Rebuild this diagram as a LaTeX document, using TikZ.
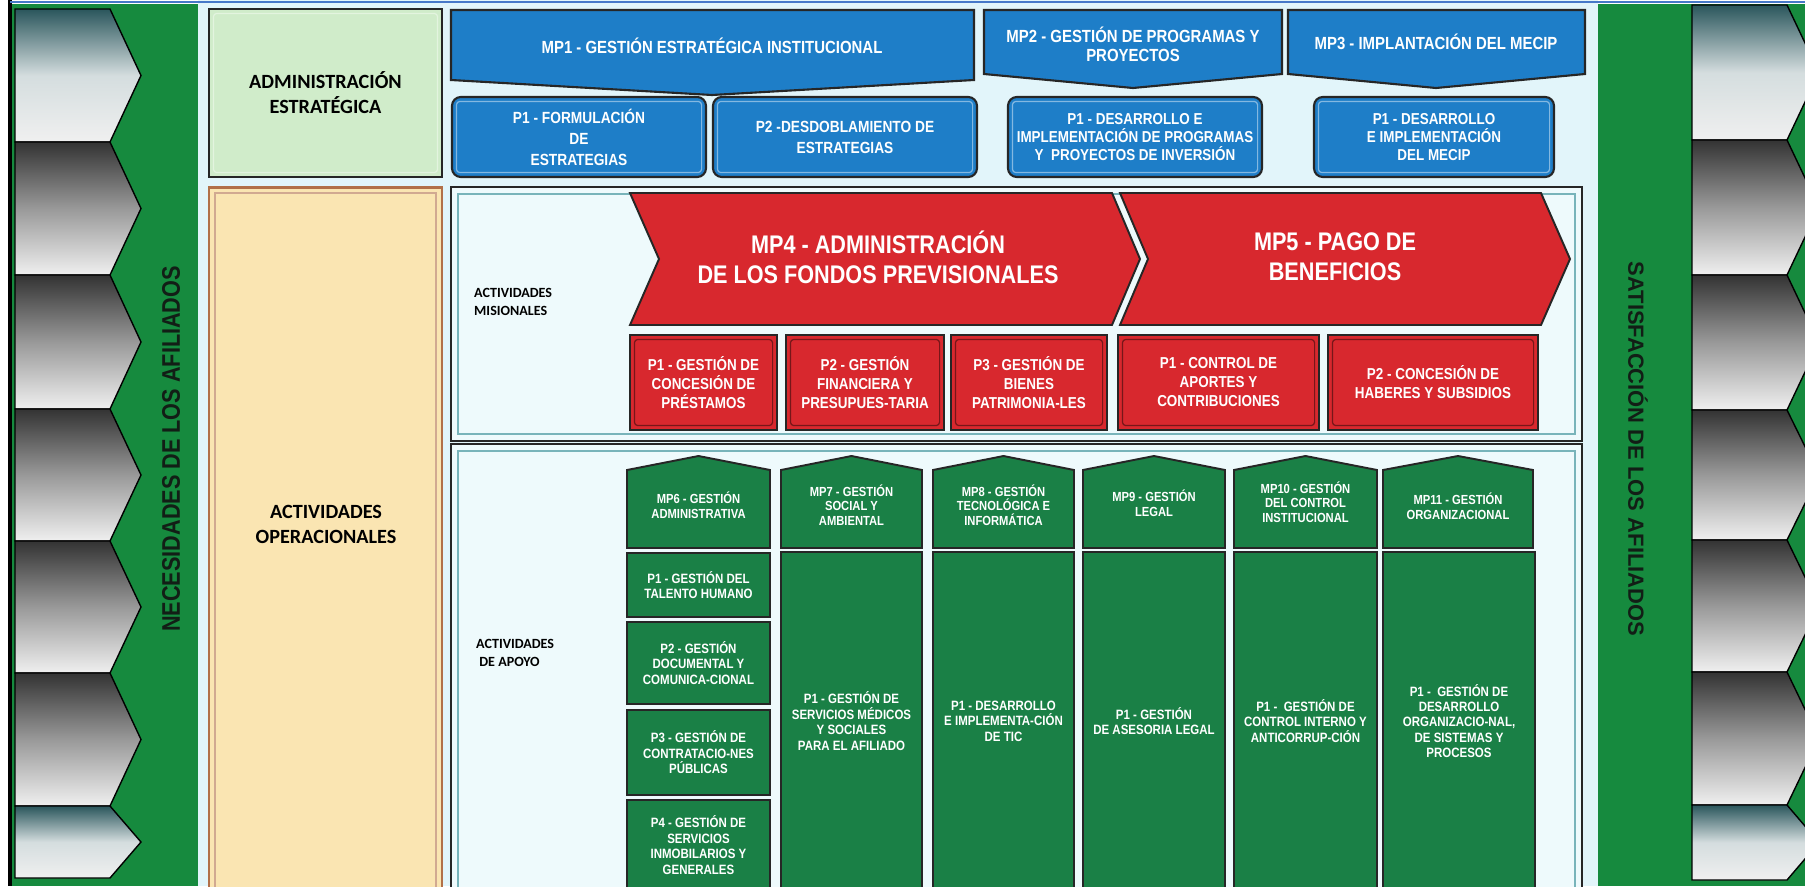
\documentclass[tikz,border=0pt]{standalone}
\usepackage{fontspec}
\setmainfont{Liberation Sans}
\newfontfamily\narrowfont[FakeStretch=0.85]{Liberation Sans}
\newfontfamily\labelfont{Carlito}

\definecolor{sidegreen}{RGB}{22,138,62}
\definecolor{boxgreen}{RGB}{26,128,70}
\definecolor{mpblue}{RGB}{30,126,200}
\definecolor{mpred}{RGB}{216,40,46}
\definecolor{bgcyan}{RGB}{226,245,250}
\definecolor{secfill}{RGB}{238,250,252}
\definecolor{framecyan}{RGB}{120,180,186}
\definecolor{adminfill}{RGB}{208,236,202}
\definecolor{operfill}{RGB}{250,229,178}
\definecolor{operedge}{RGB}{178,112,72}
\definecolor{chevteal}{RGB}{42,86,92}
\definecolor{textdark}{RGB}{18,30,22}
\definecolor{topline}{RGB}{70,120,200}

\begin{document}
\begin{tikzpicture}[x=0.02cm, y=-0.02cm,
        % box size given in pixels of the layout grid
        wh/.style 2 args={minimum width=#1*0.02cm, minimum height=#2*0.02cm},
        % thin inset line inside a box
        bevel/.style={path picture={\draw[#1, line width=0.7pt, rounded corners=2pt]
            ([shift={(2.5pt,2.5pt)}]path picture bounding box.south west) rectangle
            ([shift={(-2.5pt,-2.5pt)}]path picture bounding box.north east);}},
        % Side chevrons: black outline, shaded dark to light
        chev/.style={draw=black, line width=0.8pt},
        % Left column panels and row labels
        panel/.style={rectangle, draw=black!85, line width=1.4pt, inner sep=0pt},
        labeltext/.style={text=black, align=center,
            font=\labelfont\bfseries\fontsize{11.5}{14.2}\selectfont},
        rowtext/.style={text=black, align=left, anchor=west,
            font=\labelfont\bfseries\fontsize{8}{10.5}\selectfont},
        sidetext/.style={text=textdark,
            font=\narrowfont\bfseries\fontsize{14.5}{16}\selectfont},
        sidewide/.style={text=textdark,
            font=\bfseries\fontsize{12.5}{14}\selectfont},
        % Strategic processes (blue)
        bluehead/.style={draw=black!85, line width=1.2pt, fill=mpblue},
        bluetext/.style={text=white, align=center,
            font=\narrowfont\bfseries\fontsize{10}{11}\selectfont},
        bluebox/.style={rectangle, draw=black!85, line width=1.2pt, fill=mpblue,
            rounded corners=5pt, bevel=mpblue!55!white, text=white, align=center,
            font=\narrowfont\bfseries\fontsize{9.2}{12}\selectfont},
        bluesmall/.style={font=\narrowfont\bfseries\fontsize{9}{10}\selectfont},
        % Sections of the operational area
        section/.style={draw=black!85, line width=1.1pt, fill=secfill},
        sectioninner/.style={draw=framecyan, line width=1.2pt},
        % Mission processes (red)
        redhead/.style={draw=black!85, line width=1.1pt, fill=mpred},
        redtext/.style={text=white, align=center,
            font=\narrowfont\bfseries\fontsize{14.5}{17}\selectfont},
        redbox/.style={rectangle, draw=black!85, line width=1.1pt, fill=mpred,
            bevel=mpred!55!black, text=white, align=center,
            font=\narrowfont\bfseries\fontsize{9}{10.8}\selectfont},
        % Support processes (green)
        greenhead/.style={draw=black!85, line width=1.1pt, fill=boxgreen},
        greentext/.style={text=white, align=center,
            font=\narrowfont\bfseries\fontsize{7.5}{8.4}\selectfont},
        greenbox/.style={rectangle, draw=black!85, line width=1.1pt, fill=boxgreen,
            text=white, align=center,
            font=\narrowfont\bfseries\fontsize{7.7}{8.8}\selectfont},
    ]

    \useasboundingbox (0,0) rectangle (1805,886);
    \clip (0,0) rectangle (1805,886);

    % === Background and side bands ===
    \fill[white] (0,0) rectangle (1805,886);
    \fill[bgcyan] (198,0) rectangle (1598,886);
    \fill[sidegreen] (12,4) rectangle (198,886);
    \fill[sidegreen] (1598,4) rectangle (1805,886);
    \draw[line width=2.2pt] (10,0) -- (10,886);
    \draw[topline, line width=0.8pt] (10,2) -- (1805,2);

    % === Side chevrons ===
    \foreach \ya/\yb/\tc/\mc in {9/142/chevteal/chevteal!20!white,
            142/275/black!80/black!40, 275/409/black!80/black!40,
            409/541/black!80/black!40, 541/673/black!80/black!40,
            673/806/black!80/black!40, 806/878/chevteal/chevteal!20!white}
        \path[chev, top color=\tc, bottom color=black!6, middle color=\mc]
            (15,\ya) -- (110,\ya) -- (141,{(\ya+\yb)/2}) -- (110,\yb) -- (15,\yb) -- cycle;
    \foreach \ya/\yb/\tc/\mc in {5/140/chevteal/chevteal!20!white,
            140/275/black!80/black!40, 275/410/black!80/black!40,
            410/540/black!80/black!40, 540/672/black!80/black!40,
            672/805/black!80/black!40, 805/880/chevteal/chevteal!20!white}
        \path[chev, top color=\tc, bottom color=black!6, middle color=\mc]
            (1692,\ya) -- (1787,\ya) -- (1819,{(\ya+\yb)/2}) -- (1787,\yb) -- (1692,\yb) -- cycle;

    \node[sidetext, rotate=90] (needs) at (171,449) {NECESIDADES DE LOS AFILIADOS};
    \node[sidewide, rotate=-90] (satisf) at (1638,449) {SATISFACCIÓN DE LOS AFILIADOS};

    % === Left column ===
    \node[panel, fill=adminfill, labeltext, bevel=adminfill!60!white, wh={233}{168}] (admin) at (325.5,93) {ADMINISTRACIÓN\\ESTRATÉGICA};
    \node[panel, draw=operedge, fill=operfill, wh={233}{705}] (operpanel) at (325.5,540) {};
    \draw[operedge!60, line width=0.6pt] (215,193) rectangle (436,892);
    \node[labeltext] (oper) at (326,524) {ACTIVIDADES\\OPERACIONALES};

    % === Top row: strategic processes ===
    \draw[bluehead] (451,10) -- (974,10) -- (974,80) -- (712,95) -- (451,80) -- cycle;
    \node[bluetext] (mp1) at (712,46) {MP1 - GESTIÓN ESTRATÉGICA INSTITUCIONAL};
    \draw[bluehead] (984,10) -- (1282,10) -- (1282,74) -- (1133,88) -- (984,74) -- cycle;
    \node[bluetext] (mp2) at (1133,44) {MP2 - GESTIÓN DE PROGRAMAS Y\\PROYECTOS};
    \draw[bluehead] (1288,10) -- (1585,10) -- (1585,74) -- (1436,88) -- (1288,74) -- cycle;
    \node[bluetext] (mp3) at (1436,42) {MP3 - IMPLANTACIÓN DEL MECIP};

    \node[bluebox, wh={254}{80}] (p11) at (579,137) {P1 - FORMULACIÓN\\DE\\ESTRATEGIAS};
    \node[bluebox, wh={264}{80}] (p12) at (845,137) {P2 -DESDOBLAMIENTO DE\\ESTRATEGIAS};
    \node[bluebox, bluesmall, wh={254}{80}] (p21) at (1135,137) {P1 - DESARROLLO E\\IMPLEMENTACIÓN DE PROGRAMAS\\Y~~PROYECTOS DE INVERSIÓN};
    \node[bluebox, bluesmall, wh={240}{80}] (p31) at (1434,137) {P1 - DESARROLLO\\E IMPLEMENTACIÓN\\DEL MECIP};

    % === Middle row: mission processes ===
    \draw[section] (451,187) rectangle (1582,441);
    \draw[sectioninner] (458,194) rectangle (1575,434);
    \node[rowtext] (misional) at (468,302) {ACTIVIDADES\\MISIONALES};

    \draw[redhead] (630,193) -- (1112,193) -- (1140,259) -- (1112,325) -- (630,325) -- (659,259) -- cycle;
    \node[redtext] (mp4) at (878,257) {MP4 - ADMINISTRACIÓN\\DE LOS FONDOS PREVISIONALES};
    \draw[redhead] (1120,193) -- (1541,193) -- (1570,259) -- (1541,325) -- (1120,325) -- (1148,259) -- cycle;
    \node[redtext] (mp5) at (1335,257) {MP5 - PAGO DE\\BENEFICIOS};

    \node[redbox, wh={147}{95}] (p41) at (703.5,382.5) {P1 - GESTIÓN DE\\CONCESIÓN DE\\PRÉSTAMOS};
    \node[redbox, wh={158}{95}] (p42) at (865,382.5) {P2 - GESTIÓN\\FINANCIERA Y\\PRESUPUES-TARIA};
    \node[redbox, wh={156}{95}] (p43) at (1029,382.5) {P3 - GESTIÓN DE\\BIENES\\PATRIMONIA-LES};
    \node[redbox, wh={201}{95}] (p51) at (1218.5,382.5) {P1 - CONTROL DE\\APORTES Y\\CONTRIBUCIONES};
    \node[redbox, wh={210}{95}] (p52) at (1433,382.5) {P2 - CONCESIÓN DE\\HABERES Y SUBSIDIOS};

    % === Bottom row: support processes ===
    \draw[section] (451,444) rectangle (1582,895);
    \draw[sectioninner] (458,451) rectangle (1575,895);
    \node[rowtext] (apoyo) at (470,653) {ACTIVIDADES\\~DE APOYO};

    \foreach \xl/\xr in {627/770, 781/922, 933/1074, 1083/1225, 1234/1377, 1383/1533}
        \draw[greenhead] (\xl,548) -- (\xl,470) -- ({(\xl+\xr)/2},456) -- (\xr,470) -- (\xr,548) -- cycle;

    \node[greentext] (mp6) at (698.5,505) {MP6 - GESTIÓN\\ADMINISTRATIVA};
    \node[greentext] (mp7) at (851.5,505) {MP7 - GESTIÓN\\SOCIAL Y\\AMBIENTAL};
    \node[greentext] (mp8) at (1003.5,505) {MP8 - GESTIÓN\\TECNOLÓGICA E\\INFORMÁTICA};
    \node[greentext] (mp9) at (1154,503) {MP9 - GESTIÓN\\LEGAL};
    \node[greentext] (mp10) at (1305.5,502) {MP10 - GESTIÓN\\DEL CONTROL\\INSTITUCIONAL};
    \node[greentext] (mp11) at (1458,506) {MP11 - GESTIÓN\\ORGANIZACIONAL};

    \node[greenbox, wh={143}{64}] (p61) at (698.5,585) {P1 - GESTIÓN DEL\\TALENTO HUMANO};
    \node[greenbox, wh={143}{82}] (p62) at (698.5,663) {P2 - GESTIÓN\\DOCUMENTAL Y\\COMUNICA-CIONAL};
    \node[greenbox, wh={143}{85}] (p63) at (698.5,752.5) {P3 - GESTIÓN DE\\CONTRATACIO-NES\\PÚBLICAS};
    \node[greenbox, wh={143}{90}] (p64) at (698.5,845) {P4 - GESTIÓN DE\\SERVICIOS\\INMOBILARIOS Y\\GENERALES};
    \node[greenbox, wh={141}{338}] (p71) at (851.5,721) {P1 - GESTIÓN DE\\SERVICIOS MÉDICOS\\Y SOCIALES\\PARA EL AFILIADO};
    \node[greenbox, wh={141}{338}] (p81) at (1003.5,721) {P1 - DESARROLLO\\E IMPLEMENTA-CIÓN\\DE TIC};
    \node[greenbox, wh={142}{338}] (p91) at (1154,721) {P1 - GESTIÓN\\DE ASESORIA LEGAL};
    \node[greenbox, wh={143}{338}] (p101) at (1305.5,721) {P1 -~~GESTIÓN DE\\CONTROL INTERNO Y\\ANTICORRUP-CIÓN};
    \node[greenbox, wh={152}{338}] (p111) at (1459,721) {P1 -~~GESTIÓN DE\\DESARROLLO\\ORGANIZACIO-NAL,\\DE SISTEMAS Y\\PROCESOS};

\end{tikzpicture}
\end{document}
